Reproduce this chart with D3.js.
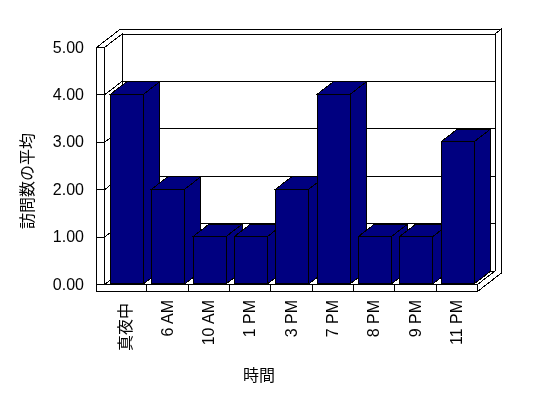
<!DOCTYPE html>
<html>
<head>
<meta charset="utf-8">
<script src="https://cdn.jsdelivr.net/npm/d3@7"></script>
<style>
  body { margin: 0; background: #fff; }
  svg text { font-family: "Liberation Sans", Arial, "Noto Sans CJK JP", sans-serif; font-size: 16px; fill: #000; }
  .labels { opacity: 0.995; }
</style>
</head>
<body>
<div id="chart"></div>
<script>
const categories = ['真夜中', '6 AM', '10 AM', '1 PM', '3 PM', '7 PM', '8 PM', '9 PM', '11 PM'];
const visits = [4, 2, 1, 1, 2, 4, 1, 1, 3];
const yTicks = [0, 1, 2, 3, 4, 5];
const yTitle = '訪問数の平均';
const xTitle = '時間';

const W = 548, H = 398;
// oblique 3d: depth z=1 is the front face of the back wall
const DX = 17.5, DY = -13.5, ZB = 1.37;
const wallOut = 96, floorH = 7;

const x = d3.scaleBand()
	.domain(categories)
	.range([105, 477])
	.paddingInner(0.2)
	.paddingOuter(0.1);
const y = d3.scaleLinear()
	.domain([0, 5])
	.range([284, 47]);

const xl = 104, xr = 477, y0 = y(0), yt = y(5);
const P = (px, py, z) => [px + z * DX, py + z * DY];
const poly = pts => 'M' + pts.map(p => p.join(',')).join('L') + 'Z';

const svg = d3.select('#chart')
	.append('svg')
	.attr('width', W)
	.attr('height', H);

const g = svg.append('g')
	.attr('transform', 'translate(0.5,0.5)')
	.attr('shape-rendering', 'crispEdges');
const face = (pts, fill) => g.append('path')
	.attr('d', poly(pts))
	.attr('fill', fill || '#fff')
	.attr('stroke', '#000')
	.attr('stroke-width', 1);

// back wall front face
face([P(xl, yt, 1), P(xr, yt, 1), P(xr, y0, 1), P(xl, y0, 1)]);
// top of left wall + back wall
face([P(wallOut, yt, 0), P(xl, yt, 0), P(xl, yt, 1), P(xr, yt, 1), P(xr, yt, ZB), P(wallOut, yt, ZB)]);
// right side of back wall + floor
face([P(xr, y0, 0), P(xr, y0 + floorH, 0), P(xr, y0 + floorH, ZB), P(xr, yt, ZB), P(xr, yt, 1), P(xr, y0, 1)]);
// floor top
face([P(xl, y0, 0), P(xr, y0, 0), P(xr, y0, 1), P(xl, y0, 1)]);
// left wall inner face
face([P(xl, yt, 0), P(xl, yt, 1), P(xl, y0, 1), P(xl, y0, 0)]);
// left wall front
face([[wallOut, yt], [xl, yt], [xl, y0], [wallOut, y0]]);
// floor front
face([[wallOut, y0], [xr, y0], [xr, y0 + floorH], [wallOut, y0 + floorH]]);

// gridlines
const grid = yTicks.filter(v => v > 0 && v < 5);
grid.forEach(v => {
	const a = P(xl, y(v), 1), b = P(xr, y(v), 1), c = P(xl, y(v), 0);
	g.append('path')
		.attr('d', `M${wallOut},${y(v)}L${c.join(',')}L${a.join(',')}L${b.join(',')}`)
		.attr('fill', 'none')
		.attr('stroke', '#000');
});

// category ticks on the floor front
const step = x.step();
d3.range(1, categories.length).forEach(i => {
	const tx = x.range()[0] + i * step;
	g.append('line')
		.attr('x1', tx).attr('x2', tx)
		.attr('y1', y0).attr('y2', y0 + floorH)
		.attr('stroke', '#000');
});

// bars
const z0 = 0.05, z1 = 0.96;
categories.forEach((c, i) => {
	const bx0 = x(c), bx1 = x(c) + x.bandwidth();
	const top = y(visits[i]);
	face([P(bx1, top, z0), P(bx1, top, z1), P(bx1, y0, z1), P(bx1, y0, z0)], '#000080');
	face([P(bx0, top, z0), P(bx1, top, z0), P(bx1, top, z1), P(bx0, top, z1)], '#000080');
	face([P(bx0, top, z0), P(bx1, top, z0), P(bx1, y0, z0), P(bx0, y0, z0)], '#000080');
});

const labels = svg.append('g').attr('class', 'labels');

// y labels
labels.append('g')
	.selectAll('text')
	.data(yTicks)
	.join('text')
	.attr('x', 84)
	.attr('y', d => y(d))
	.attr('dy', '0.35em')
	.attr('text-anchor', 'end')
	.text(d3.format('.2f'));

// x labels
labels.append('g')
	.selectAll('text')
	.data(categories)
	.join('text')
	.attr('transform', (d, i) => `translate(${x(d) + x.bandwidth() / 2},${i === 0 ? 303 : 300}) rotate(-90)`)
	.attr('dy', '0.35em')
	.attr('text-anchor', 'end')
	.text(d => d);

labels.append('text')
	.attr('transform', 'translate(27,181) rotate(-90)')
	.attr('dy', '0.35em')
	.attr('text-anchor', 'middle')
	.text(yTitle);

labels.append('text')
	.attr('x', 259)
	.attr('y', 375)
	.attr('dy', '0.35em')
	.attr('text-anchor', 'middle')
	.text(xTitle);
</script>
</body>
</html>
